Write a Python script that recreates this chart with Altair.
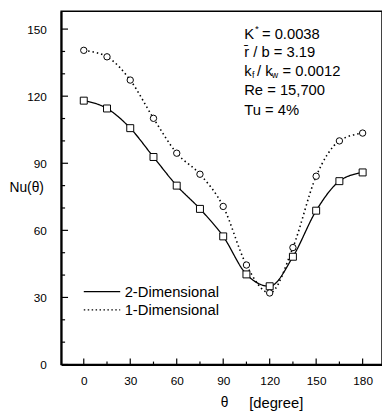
import altair as alt
import pandas as pd

theta = [0, 15, 30, 45, 60, 75, 90, 105, 120, 135, 150, 165, 180]
nu_2d = [118.0, 114.5, 105.7, 92.8, 80.0, 69.6, 57.3, 40.3, 35.0, 48.2, 68.8, 82.0, 85.9]
nu_1d = [140.5, 137.6, 127.2, 110.1, 94.5, 85.1, 70.7, 44.5, 32.0, 52.3, 84.2, 100.0, 103.5]
series = ["2-Dimensional", "1-Dimensional"]

y_major = [0, 30, 60, 90, 120, 150]
y_minor = [10, 20, 40, 50, 70, 80, 100, 110, 130, 140]
x_major = [0, 30, 60, 90, 120, 150, 180]
x_minor = [15, 45, 75, 105, 135, 165]

W, H = 326, 359
FONT = "Liberation Sans"

df = pd.DataFrame({
    "theta": theta * 2,
    "nu": nu_2d + nu_1d,
    "series": [series[0]] * len(theta) + [series[1]] * len(theta),
})

xs = alt.Scale(domain=[-14.6, 192.5], nice=False, zero=False)
ys = alt.Scale(domain=[0, 158], nice=False)

x_axis = alt.Axis(values=x_major, ticks=False, grid=False, title=None, labelFont=FONT,
                  labelFontSize=12, labelColor="black", labelPadding=11,
                  domainColor="black", domainWidth=2)
y_axis = alt.Axis(values=y_major, ticks=False, grid=False, title=None, labelFont=FONT,
                  labelFontSize=12, labelColor="black", labelPadding=15,
                  domainColor="black", domainWidth=2)

X = lambda f: alt.X(f, scale=xs, axis=x_axis)
Y = lambda f: alt.Y(f, scale=ys, axis=y_axis)

base = alt.Chart(df)

lines = base.mark_line(color="black", interpolate="monotone").encode(
    x=X("theta:Q"),
    y=Y("nu:Q"),
    detail="series:N",
    strokeDash=alt.StrokeDash("series:N", scale=alt.Scale(domain=series, range=[[1, 0], [1.5, 3]]), legend=None),
    strokeWidth=alt.StrokeWidth("series:N", scale=alt.Scale(domain=series, range=[1.3, 1.6]), legend=None),
)

pts = base.mark_point(filled=True, fill="white", stroke="black", strokeWidth=1, opacity=1).encode(
    x=X("theta:Q"),
    y=Y("nu:Q"),
    shape=alt.Shape("series:N", scale=alt.Scale(domain=series, range=["square", "circle"]), legend=None),
    size=alt.Size("series:N", scale=alt.Scale(domain=series, range=[50, 42]), legend=None),
)


def yticks(vals, length):
    return alt.Chart(pd.DataFrame({"v": vals})).mark_rule(color="black", strokeWidth=1.2).encode(
        y=Y("v:Q"), x=alt.value(0), x2=alt.value(length))


def xticks(vals, length):
    return alt.Chart(pd.DataFrame({"v": vals})).mark_rule(color="black", strokeWidth=1.2).encode(
        x=X("v:Q"), y=alt.value(H), y2=alt.value(H - length))


def txt(s, x, y, size=15, align="left"):
    return alt.Chart(pd.DataFrame({"s": [s]})).mark_text(
        font=FONT, fontSize=size, align=align, baseline="middle", color="black").encode(
        text="s:N", x=alt.value(x), y=alt.value(y))


def legend_rule(y, dash):
    return alt.Chart(pd.DataFrame({"s": [0]})).mark_rule(color="black", strokeWidth=1.3, strokeDash=dash).encode(
        x=alt.value(23), x2=alt.value(60), y=alt.value(y))


layers = [
    lines, pts,
    yticks(y_major, 7), yticks(y_minor, 4),
    xticks(x_major, 6), xticks(x_minor, 3),
    # annotations
    txt("K", 186, 23), txt("*", 197, 18, 10), txt("= 0.0038", 204, 23),
    txt("r\u0304 / b = 3.19", 186, 42),
    txt("k", 186, 61), txt("f", 194, 65, 9), txt("/ k", 199, 61), txt("w", 214, 65, 9), txt("= 0.0012", 225, 61),
    txt("Re = 15,700", 186, 80),
    txt("Tu = 4%", 186, 100),
    # legend
    legend_rule(285, [1, 0]), legend_rule(303.5, [1.5, 2.5]),
    txt("2-Dimensional", 64.5, 285), txt("1-Dimensional", 64.5, 303.5),
    # axis titles
    txt("Nu(\u03b8)", -35, 180, 14, "center"),
    txt("\u03b8", 166, 398.5, 14, "center"),
    txt("[degree]", 191, 398.5, 15),
]

chart = alt.layer(*layers).properties(
    width=W, height=H, autosize=alt.AutoSizeParams(type="none"),
    padding={"left": 54, "top": 0, "right": 0, "bottom": 46},
).configure_view(stroke="black", strokeWidth=1.5)

chart.save("out.html", embed_options={"renderer": "svg", "actions": False})
